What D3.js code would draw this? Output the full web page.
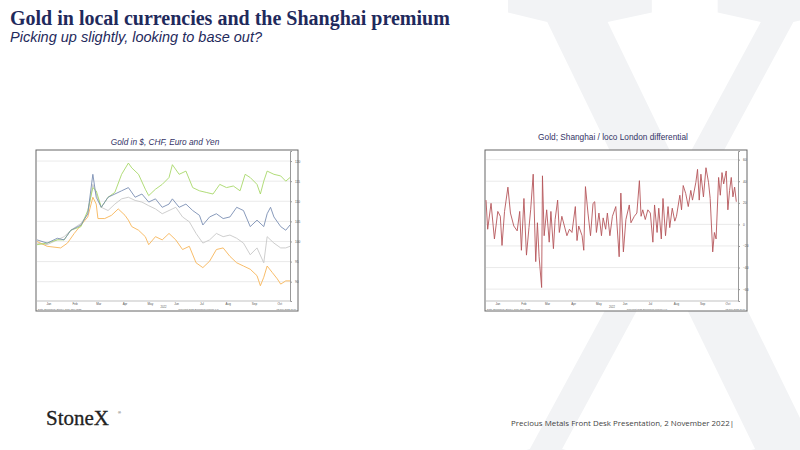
<!DOCTYPE html>
<html><head><meta charset="utf-8">
<script src="https://cdn.jsdelivr.net/npm/d3@7"></script>
<style>body{margin:0;background:#fff}svg{display:block}</style>
</head><body>
<svg id="c" width="800" height="450"></svg>
<script>
// ---- data ----
const monthLabels = ["Jan","Feb","Mar","Apr","May","Jun","Jul","Aug","Sep","Oct"];
const leftTicks = [90,95,100,105,110,115,120];
const rightTicks = [-60,-40,-20,0,20,40,60];

const yenDays = [0,12,28,36,44,52,60,66,70,72,80,88,96,104,108,112,120,128,132,140,148,156,164,172,180,188,196,204,212,220,228,236,244,252,260,264,268,272,278,284,288,294,299];
const yenVals = [100,98.8,98.4,99.6,102,104.1,106.1,111,109.3,105.7,105.7,106.5,108.1,106.5,105.3,103.7,102.8,101.2,99.2,101.2,100.4,102,100.4,98,98.8,94.7,93.5,95.1,98,98.4,96.3,94.7,93.9,93.1,91.5,89,91.1,93.9,92.3,90.7,89.4,90.2,90.2];
const usdDays = [0,12,24,32,40,52,60,66,70,76,84,92,100,108,116,124,132,140,148,156,160,168,176,184,192,196,204,212,220,228,236,244,252,260,268,272,276,280,288,294,299];
const usdVals = [100.4,99.6,100.8,100.4,102.8,104.1,106.9,116.7,111,108.5,111,111.8,112.6,113.4,111,111.8,109.8,110.6,108.5,109.3,110.6,108.5,109.3,107.7,106.5,104.1,106.1,106.9,105.7,106.1,108.5,107.7,103.7,105.3,103.7,106.9,108.5,106.1,103.7,102.8,104.1];
const eurDays = [0,12,24,32,40,52,60,66,70,76,84,92,100,108,112,120,128,132,140,148,156,160,168,176,184,192,200,208,216,224,232,240,246,252,260,264,268,272,280,288,294,299];
const eurVals = [99.2,99.6,100.4,100.4,102.8,103.7,107.7,113.4,112.6,108.5,111,112.2,116.7,119.5,118.3,116.7,113,111.4,113,114.2,115.9,119.1,116.7,117.5,113.4,112.6,112.2,111.8,114.2,113.4,113.8,112.6,116.7,115.9,114.2,111.8,115,117.5,116.7,116.3,115,115.9];
const chfDays = [0,12,24,32,40,52,60,66,70,76,84,92,100,108,116,124,132,140,148,156,164,172,180,188,196,204,212,220,228,236,244,252,260,268,272,280,288,294,299];
const chfVals = [99.6,99.2,100.4,101.2,102.8,104.5,106.9,114.2,111.8,108.5,107.7,109.3,110.6,111,110.2,109.8,108.9,108.1,106.9,107.7,108.5,106.1,104.9,102,99.6,100.4,102,101.2,101.6,100.8,99.6,96.7,98.4,94.7,101.2,99.6,98.4,98.4,98.8];

const premDays = [0,2,6,10,14,17,19,22,26,29,33,37,40,42,45,48,51,53,56,59,61,63,66,67,69,72,75,77,80,82,85,87,90,93,96,99,102,106,108,110,114,116,118,121,124,127,129,131,134,137,139,142,144,147,150,154,158,160,163,166,170,172,176,179,182,184,186,189,192,195,198,200,203,205,208,210,213,216,218,221,224,226,230,232,234,237,240,243,245,249,251,253,255,258,261,264,266,269,271,273,276,278,280,282,285,287,289,291,293,295,297];
const premVals = [22.5,-4.5,19.5,-13.5,12,7.5,-19.5,12,34.5,10.5,-1.5,-6,12,-24,24,-28.5,-3,13.5,46.5,-34.5,1.5,-30,-58.5,45,-10.5,13.5,-16.5,12,-22.5,4.5,22.5,-7.5,7.5,-1.5,-10.5,-4.5,-7.5,16.5,-15,-1.5,-10.5,-24,35,10.5,-10.5,19.5,21,-7.5,10.5,-10.5,6,-4.5,10.5,-10.5,7.5,16.5,-30,29,-25.5,4.5,18,1.5,7.5,10.5,40.5,7.5,13.5,4.5,13.5,10.5,-16.5,18,-7.5,15,-13.5,24,-10.5,16.5,-3,15,3,7.5,27,13.5,36,28.5,16.5,31.5,22.5,39,51,22.5,46.5,25.5,52.5,39,24,-25.5,-7.5,-13.5,43.5,27,48,37.5,49.5,13.5,31.5,43.5,25.5,34.5,21];

// ---- drawing ----
const svg = d3.select("#c");
const start = new Date(2022,0,1);
const toDate = d => d3.timeDay.offset(start, d);

// watermark X (decorative glyph)
svg.append("text").attr("transform","translate(672,478) scale(0.72,1)").attr("text-anchor","middle")
  .attr("font-family","Liberation Serif, serif").attr("font-size",740)
  .attr("fill","#f2f3f5").text("X");

svg.append("text").attr("x",10).attr("y",25).attr("font-family","Liberation Serif, serif")
  .attr("font-weight","bold").attr("font-size",20).attr("fill","#1f2a5c")
  .text("Gold in local currencies and the Shanghai premium");
svg.append("text").attr("x",10).attr("y",42).attr("font-family","Liberation Sans, Arial, sans-serif")
  .attr("font-style","italic").attr("font-size",14.5).attr("fill","#1f2a5c")
  .text("Picking up slightly, looking to base out?");
svg.append("text").attr("x",46).attr("y",425).attr("font-family","Liberation Serif, serif")
  .attr("font-size",21).attr("fill","#222").attr("stroke","#222").attr("stroke-width",0.3).text("StoneX");
svg.append("text").attr("x",118).attr("y",414).attr("font-family","sans-serif")
  .attr("font-size",4).attr("fill","#222").text("®");
svg.append("text").attr("x",734).attr("y",426).attr("text-anchor","end")
  .attr("font-family","Open Sans, sans-serif").attr("font-size",7.9).attr("fill","#444")
  .text("Precious Metals Front Desk Presentation, 2 November 2022|");

function panel(o){
  const g = svg.append("g");
  g.append("text").attr("x",o.tx).attr("y",o.ty).attr("text-anchor","middle")
    .attr("font-family","Liberation Sans, Arial, sans-serif").attr("font-size",8.3)
    .attr("font-style",o.italic?"italic":"normal").attr("fill","#333366").text(o.title);
  g.append("rect").attr("x",o.fx).attr("y",o.fy).attr("width",o.fw).attr("height",o.fh)
    .attr("fill","#fff").attr("stroke","#666").attr("stroke-width",1);
  const x = d3.scaleTime().domain([start,new Date(2022,9,27)]).range([o.x0,o.x1]);
  const y = d3.scaleLinear().domain(o.ydom).range([o.y1,o.y0]);
  g.selectAll(".gl").data(o.ticks).join("line")
    .attr("x1",o.x0).attr("x2",o.x1).attr("y1",d=>y(d)).attr("y2",d=>y(d))
    .attr("stroke","#e4e4e4").attr("stroke-width",0.8);
  const ay = d3.axisRight(y).tickValues(o.ticks).tickSize(2);
  g.append("g").attr("transform",`translate(${o.x1},0)`).call(ay)
    .call(a=>{a.selectAll("text").attr("font-size",3.2).attr("fill","#555");a.selectAll("line,path").attr("stroke","#999");});
  g.append("line").attr("x1",o.x0).attr("x2",o.x1).attr("y1",o.y1).attr("y2",o.y1).attr("stroke","#999").attr("stroke-width",0.6);
  const months = d3.timeMonths(start,new Date(2022,9,2));
  g.selectAll(".ml").data(months).join("text")
    .attr("x",d=>x(d3.timeDay.offset(d,14))).attr("y",o.y1+3.6).attr("text-anchor","middle")
    .attr("font-size",3).attr("font-family","sans-serif").attr("fill","#555")
    .text((d,i)=>monthLabels[i]);
  g.append("text").attr("x",(o.x0+o.x1)/2).attr("y",o.y1+7).attr("text-anchor","middle")
    .attr("font-size",2.6).attr("fill","#555").attr("font-family","sans-serif").text("2022");
  const fy = o.fy+o.fh-0.8;
  g.append("text").attr("x",o.fx+2).attr("y",fy).attr("font-size",2.3).attr("fill","#666")
    .attr("font-family","sans-serif").text("Data: Bloomberg, StoneX    Gold, daily 2022");
  g.append("text").attr("x",(o.x0+o.x1)/2+35).attr("y",fy).attr("text-anchor","middle").attr("font-size",2.3).attr("fill","#666")
    .attr("font-family","sans-serif").text("Copyright 2022 Bloomberg Finance L.P.");
  g.append("text").attr("x",o.fx+o.fw-2).attr("y",fy).attr("text-anchor","end").attr("font-size",2.3).attr("fill","#666")
    .attr("font-family","sans-serif").text("02-Nov-2022 11:00");
  const line = d3.line().x(d=>x(toDate(d[0]))).y(d=>y(d[1]));
  o.series.forEach(s=>{
    g.append("path").datum(d3.zip(s.days,s.vals)).attr("d",line)
      .attr("fill","none").attr("stroke",s.color).attr("stroke-width",0.9);
  });
}

panel({title:"Gold in $, CHF, Euro and Yen",italic:true,tx:165,ty:145,
  fx:36,fy:150,fw:262,fh:161,x0:37,x1:290,y0:151,y1:301,
  ydom:[85.2,122.5],ticks:leftTicks,
  series:[
    {days:chfDays,vals:chfVals,color:"#c8c8c8"},
    {days:yenDays,vals:yenVals,color:"#f7b559"},
    {days:eurDays,vals:eurVals,color:"#a8d86a"},
    {days:usdDays,vals:usdVals,color:"#7a8fb3"}
  ]});
panel({title:"Gold; Shanghai / loco London differential",italic:false,tx:613,ty:140,
  fx:485,fy:150,fw:262,fh:161,x0:486,x1:738,y0:151,y1:301,
  ydom:[-71,68],ticks:rightTicks,
  series:[{days:premDays,vals:premVals,color:"#b5565a"}]});
</script>
</body></html>
